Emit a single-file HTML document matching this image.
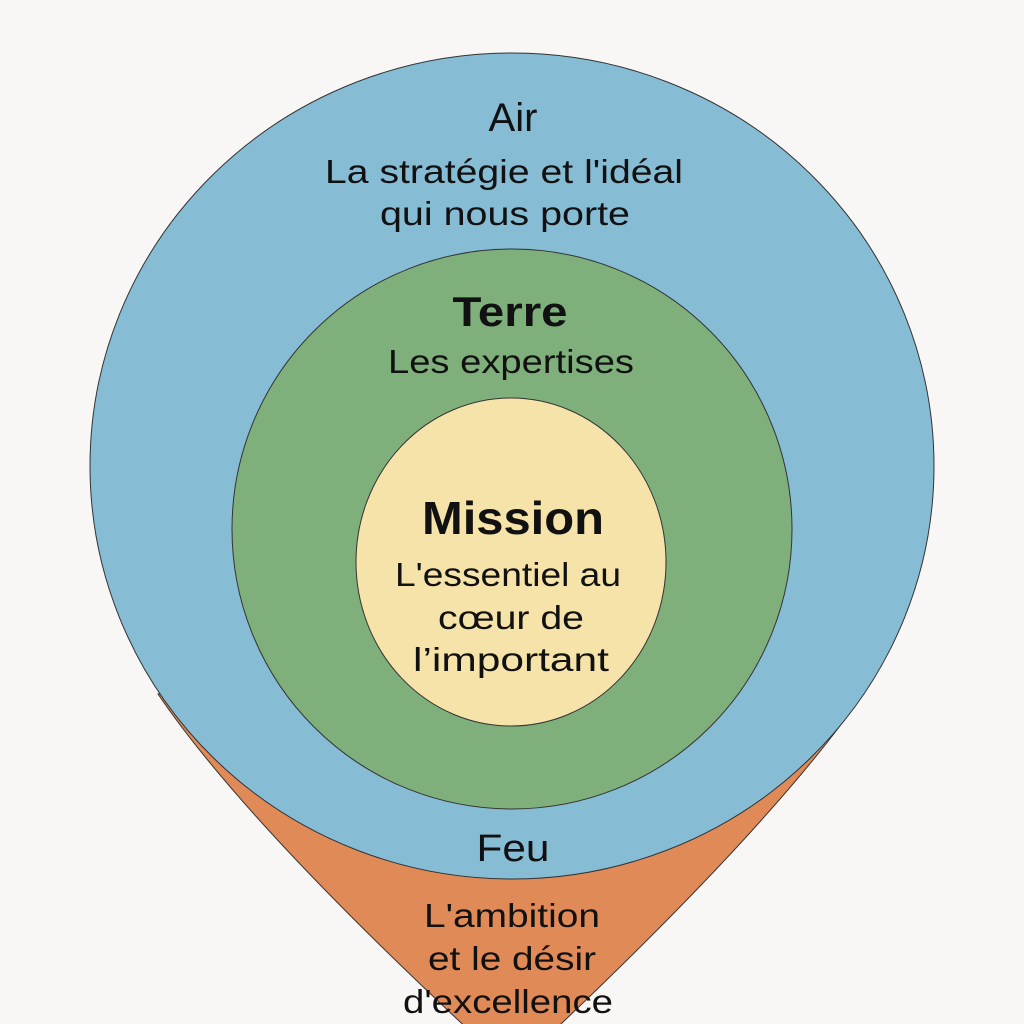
<!DOCTYPE html>
<html><head><meta charset="utf-8"><style>
html,body{margin:0;padding:0;background:#f8f7f5;}
svg{display:block}
text{font-family:"Liberation Sans",sans-serif;fill:#111;text-anchor:middle}
</style></head><body>
<svg width="1024" height="1024" viewBox="0 0 1024 1024">
<rect width="1024" height="1024" fill="#f8f7f5"/>
<path d="M158,694 Q250,830 512,1070 Q770,830 866,690 Z" fill="#e08a58" stroke="#333" stroke-width="1"/>
<ellipse cx="512" cy="466" rx="422" ry="413" fill="#87bcd5" stroke="#333" stroke-width="1"/>
<ellipse cx="512" cy="529" rx="280" ry="280" fill="#7fb07c" stroke="#333" stroke-width="1"/>
<ellipse cx="511" cy="562" rx="155" ry="164" fill="#f5e3a9" stroke="#333" stroke-width="1"/>
<text x="513" y="131" font-size="40">Air</text>
<text x="504" y="183" font-size="33" textLength="358" lengthAdjust="spacingAndGlyphs">La stratégie et l'idéal</text>
<text x="505" y="225" font-size="33" textLength="250" lengthAdjust="spacingAndGlyphs">qui nous porte</text>
<text x="510" y="326" font-size="42" font-weight="bold" textLength="115" lengthAdjust="spacingAndGlyphs">Terre</text>
<text x="511" y="373" font-size="33" textLength="246" lengthAdjust="spacingAndGlyphs">Les expertises</text>
<text x="513" y="534" font-size="46" font-weight="bold" textLength="182" lengthAdjust="spacingAndGlyphs">Mission</text>
<text x="508" y="586" font-size="33" textLength="226" lengthAdjust="spacingAndGlyphs">L'essentiel au</text>
<text x="511" y="629" font-size="33" textLength="146" lengthAdjust="spacingAndGlyphs">cœur de</text>
<text x="511" y="671" font-size="33" textLength="196" lengthAdjust="spacingAndGlyphs">l’important</text>
<text x="513" y="861" font-size="38" textLength="73" lengthAdjust="spacingAndGlyphs">Feu</text>
<text x="512" y="927" font-size="33" textLength="176" lengthAdjust="spacingAndGlyphs">L'ambition</text>
<text x="512" y="970" font-size="33" textLength="168" lengthAdjust="spacingAndGlyphs">et le désir</text>
<text x="508" y="1013" font-size="33" textLength="210" lengthAdjust="spacingAndGlyphs">d'excellence</text>
</svg>
</body></html>
